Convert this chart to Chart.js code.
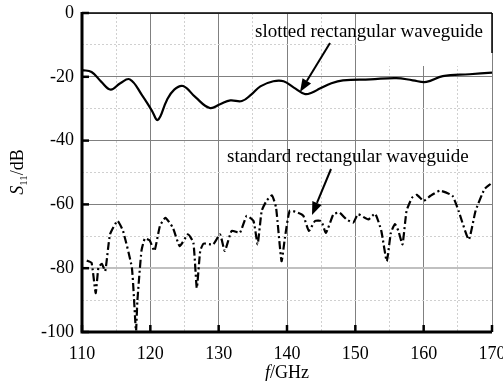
<!DOCTYPE html>
<html>
<head>
<meta charset="utf-8">
<script src="https://cdn.jsdelivr.net/npm/chart.js@4/dist/chart.umd.min.js"></script>
<style>
  html, body { margin: 0; padding: 0; background: #fff; }
  #wrap { width: 503px; height: 381px; }
</style>
</head>
<body>
<div id="wrap"><canvas id="chart" width="503" height="381"></canvas></div>
<script>
// S11 of the slotted waveguide (solid line)
const slottedFreq = [110, 111.4, 112.8, 114.2, 115.6, 117.0, 118.8, 120.2, 121.1, 122.4, 123.5, 124.8, 126.6,
  128.7, 130.2, 131.7, 133.4, 134.8, 136.1, 138.0, 139.5, 141.0, 142.6, 143.6, 144.8, 146.5, 148.2,
  152.2, 156.0, 158.4, 160.4, 162.8, 166.7, 170];
const slottedS11 = [-17.9, -18.5, -21.5, -24.0, -22.0, -20.8, -25.8, -30.5, -33.5, -27.4, -24.0, -22.9, -26.4,
  -29.8, -28.6, -27.4, -27.6, -25.5, -23.0, -21.4, -21.4, -23.4, -25.4, -25.0, -23.7, -22.0, -21.1,
  -20.8, -20.4, -21.1, -21.6, -19.8, -19.2, -18.7];

// S11 of the standard waveguide (dash-dot line)
const standardFreq = [110.7, 111.4, 112.0, 112.4, 112.9, 113.4, 114.1, 115.2, 116.0, 117.3, 117.9, 118.1,
  118.7, 119.2, 119.9, 120.6, 121.4, 122.2, 123.3, 124.3, 125.5, 126.3, 126.8, 127.3, 127.8, 129.2,
  130.2, 130.9, 131.9, 133.1, 134.1, 135.1, 135.7, 136.3, 137.0, 137.8, 138.4, 139.2, 139.7, 140.4,
  141.6, 142.4, 143.2, 144.1, 145.0, 145.7, 146.8, 147.7, 148.7, 149.7, 150.4, 151.9, 152.9, 153.8,
  154.6, 155.2, 155.8, 156.3, 156.9, 157.5, 158.3, 159.0, 160.0, 161.0, 162.4, 164.2, 165.1, 166.6,
  167.6, 168.9, 169.8];
const standardS11 = [-77.6, -78.3, -87.8, -79.9, -78.6, -80.9, -69.4, -65.2, -68.3, -79.9, -99.8, -90.4,
  -74.6, -70.7, -71.3, -74.6, -66.8, -64.2, -67.3, -73.1, -69.4, -72.0, -86.2, -74.6, -72.3, -72.5,
  -69.4, -74.6, -68.3, -68.9, -63.6, -65.2, -72.5, -62.0, -58.9, -57.2, -61.0, -77.8, -70.4, -62.0,
  -62.6, -63.6, -68.3, -65.2, -65.2, -68.9, -63.1, -62.6, -64.7, -65.7, -63.1, -64.7, -62.9, -68.3,
  -77.8, -68.9, -66.2, -68.3, -72.5, -62.0, -57.9, -57.0, -58.9, -57.3, -55.7, -57.3, -62.0, -71.0,
  -62.0, -55.2, -53.6];

const xTickLabels = [110, 120, 130, 140, 150, 160, 170];
const yTickLabels = [0, -20, -40, -60, -80, -100];

const serif = '"Liberation Serif", "Times New Roman", serif';

function toPoints(xs, ys) {
  return xs.map((x, i) => ({ x: x, y: ys[i] }));
}

// frame, inward ticks, annotations and axis titles
const decorations = {
  id: 'decorations',
  beforeDatasetsDraw(chart) {
    const a = chart.chartArea;
    const c = chart.ctx;
    // white box behind upper label
    c.save();
    c.fillStyle = '#fff';
    c.fillRect(357, a.top + 1, a.right - 357, 52);
    c.restore();
  },
  afterDatasetsDraw(chart) {
    const a = chart.chartArea;
    const c = chart.ctx;
    const xs = chart.scales.x;
    const ys = chart.scales.y;
    c.save();
    c.strokeStyle = '#000';
    // top frame line
    c.lineWidth = 1.5;
    c.beginPath();
    c.moveTo(a.left, a.top);
    c.lineTo(a.right, a.top);
    c.stroke();
    // right edge of label box
    c.beginPath();
    c.moveTo(a.right, a.top);
    c.lineTo(a.right, a.top + 40);
    c.stroke();
    // left and bottom axes
    c.lineWidth = 3;
    c.beginPath();
    c.moveTo(a.left, a.top - 1);
    c.lineTo(a.left, a.bottom);
    c.lineTo(a.right, a.bottom);
    c.stroke();
    // inward major ticks
    c.lineWidth = 2.5;
    xTickLabels.forEach(v => {
      const px = xs.getPixelForValue(v);
      c.beginPath();
      c.moveTo(px, a.bottom);
      c.lineTo(px, a.bottom - 7);
      c.stroke();
    });
    yTickLabels.forEach(v => {
      const py = ys.getPixelForValue(v);
      c.beginPath();
      c.moveTo(a.left, py);
      c.lineTo(a.left + 7, py);
      c.stroke();
    });

    // annotations
    c.fillStyle = '#000';
    c.font = '19px ' + serif;
    c.textBaseline = 'middle';
    c.textAlign = 'left';
    c.fillText('slotted rectangular waveguide', 255, 32);
    c.fillText('standard rectangular waveguide', 227, 157);

    function arrow(x1, y1, x2, y2) {
      const ang = Math.atan2(y2 - y1, x2 - x1);
      const hl = 13, hw = 5;
      const bx = x2 - hl * Math.cos(ang), by = y2 - hl * Math.sin(ang);
      c.lineWidth = 2;
      c.beginPath();
      c.moveTo(x1, y1);
      c.lineTo(bx, by);
      c.stroke();
      c.beginPath();
      c.moveTo(x2, y2);
      c.lineTo(bx + hw * Math.sin(ang), by - hw * Math.cos(ang));
      c.lineTo(bx - hw * Math.sin(ang), by + hw * Math.cos(ang));
      c.closePath();
      c.fill();
    }
    arrow(330, 43, 300, 92);
    arrow(331, 169, 312, 215);

    // axis titles
    c.textBaseline = 'alphabetic';
    c.font = 'italic 18px ' + serif;
    const fw = c.measureText('f').width;
    c.font = '18px ' + serif;
    const gw = c.measureText('/GHz').width;
    const tx = 287 - (fw + gw) / 2;
    c.font = 'italic 18px ' + serif;
    c.fillText('f', tx, 378);
    c.font = '18px ' + serif;
    c.fillText('/GHz', tx + fw, 378);

    c.translate(23, 172);
    c.rotate(-Math.PI / 2);
    c.font = 'italic 18px ' + serif;
    const sw = c.measureText('S').width;
    c.font = '11px ' + serif;
    const subw = c.measureText('11').width;
    c.font = '18px ' + serif;
    const dw = c.measureText('/dB').width;
    let sx = -(sw + subw + dw) / 2;
    c.font = 'italic 18px ' + serif;
    c.fillText('S', sx, 0);
    c.font = '11px ' + serif;
    c.fillText('11', sx + sw, 4);
    c.font = '18px ' + serif;
    c.fillText('/dB', sx + sw + subw, 0);
    c.restore();
  }
};

new Chart(document.getElementById('chart'), {
  type: 'line',
  data: {
    datasets: [
      {
        label: 'slotted rectangular waveguide',
        data: toPoints(slottedFreq, slottedS11),
        borderColor: '#000',
        borderWidth: 2.2,
        pointRadius: 0,
        tension: 0.4,
        fill: false
      },
      {
        label: 'standard rectangular waveguide',
        data: toPoints(standardFreq, standardS11),
        borderColor: '#000',
        borderWidth: 2.2,
        borderDash: [8, 3, 2, 3],
        pointRadius: 0,
        tension: 0.15,
        fill: false
      }
    ]
  },
  options: {
    responsive: false,
    animation: false,
    events: [],
    layout: { padding: { left: 0, right: 11, top: 13, bottom: 0 } },
    plugins: { legend: { display: false }, tooltip: { enabled: false } },
    scales: {
      x: {
        type: 'linear',
        min: 110,
        max: 170,
        ticks: {
          stepSize: 5,
          autoSkip: false,
          maxRotation: 0,
          padding: 11,
          color: '#000',
          font: { family: serif, size: 18 },
          callback: v => (xTickLabels.includes(v) ? String(v) : '')
        },
        grid: {
          drawTicks: false,
          color: ctx => (ctx.tick && ctx.tick.value % 10 === 0 ? '#808080' : '#d0d0d0'),
          lineWidth: 1
        },
        border: {
          display: false,
          dash: ctx => (ctx.tick && ctx.tick.value % 10 !== 0 ? [2, 2] : [])
        },
        afterFit: s => { s.height = 49; s.paddingLeft = 0; s.paddingRight = 0; }
      },
      y: {
        min: -100,
        max: 0,
        ticks: {
          stepSize: 10,
          autoSkip: false,
          padding: 8,
          color: '#000',
          font: { family: serif, size: 18 },
          callback: v => (yTickLabels.includes(v) ? String(v) : '')
        },
        grid: {
          drawTicks: false,
          color: ctx => {
            if (!ctx.tick) return '#d0d0d0';
            if (ctx.tick.value === -80) return '#c0c0c0';
            return ctx.tick.value % 20 === 0 ? '#808080' : '#d0d0d0';
          },
          lineWidth: ctx => (ctx.tick && ctx.tick.value === -80 ? 2 : 1)
        },
        border: {
          display: false,
          dash: ctx => (ctx.tick && ctx.tick.value % 20 !== 0 ? [2, 2] : [])
        },
        afterFit: s => { s.width = 82; s.paddingTop = 0; s.paddingBottom = 0; }
      }
    }
  },
  plugins: [decorations]
});
</script>
</body>
</html>
